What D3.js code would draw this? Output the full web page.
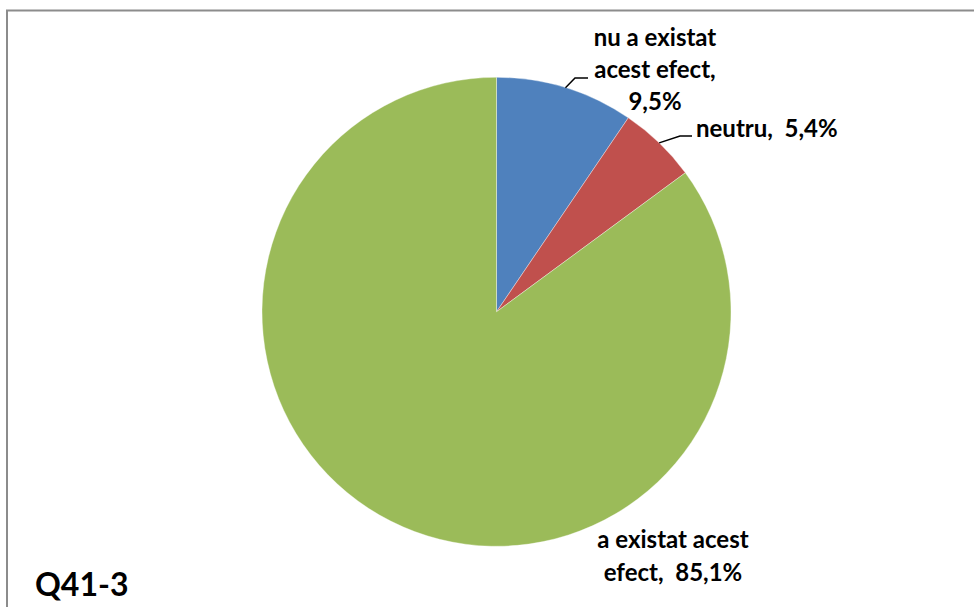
<!DOCTYPE html>
<html>
<head>
<meta charset="utf-8">
<script src="https://cdn.jsdelivr.net/npm/d3@7"></script>
<style>
  html, body { margin: 0; padding: 0; background: #fff; }
  svg { display: block; }
  text { font-family: Lato, "Open Sans", sans-serif; font-weight: bold; fill: #000; white-space: pre; }
</style>
</head>
<body>
<svg id="chart" width="974" height="607"></svg>
<script>
const categories = ["nu a existat acest efect", "neutru", "a existat acest efect"];
const values = [9.5, 5.4, 85.1];
const valueLabels = ["9,5%", "5,4%", "85,1%"];
const colors = ["#4F81BD", "#C0504D", "#9BBB59"];
const title = "Q41-3";

const svg = d3.select("#chart");
const W = 974, H = 607;

// frame
svg.append("rect").attr("x", 7).attr("y", 10.5).attr("width", W + 20).attr("height", H + 20)
  .attr("fill", "none").attr("stroke", "#8c8c8c").attr("stroke-width", 2);

const cx = 496.5, cy = 311.8, r = 234.5;
const pie = d3.pie().sort(null).value(d => d)(values);
const arc = d3.arc().innerRadius(0).outerRadius(r);

const g = svg.append("g").attr("transform", `translate(${cx},${cy})`);
g.selectAll("path").data(pie).enter().append("path")
  .attr("d", arc)
  .attr("fill", (d, i) => colors[i])
  .attr("stroke", "#ffffff").attr("stroke-opacity", 0.6).attr("stroke-width", 0.6);

const outer = d3.arc().innerRadius(r).outerRadius(r);

const labelSpecs = [
  { lines: ["nu a existat", "acest efect,", valueLabels[0]], x: 655, y: 46, lh: 32, anchor: "middle",
    leader: { bend: [575, 78], end: [588, 78] } },
  { lines: [categories[1] + ",  " + valueLabels[1]], x: 696, y: 137, lh: 32, anchor: "start",
    leader: { bend: [680, 136], end: [692, 136] } },
  { lines: ["a existat acest", "efect,  " + valueLabels[2]], x: 673, y: 548, lh: 33, anchor: "middle", leader: null }
];

labelSpecs.forEach((s, i) => {
  if (s.leader) {
    const c = outer.centroid(pie[i]);
    const px = cx + c[0], py = cy + c[1];
    svg.append("polyline")
      .attr("points", [[px, py], s.leader.bend, s.leader.end].map(p => p.join(",")).join(" "))
      .attr("fill", "none").attr("stroke", "#000").attr("stroke-width", 1.5);
  }
  const t = svg.append("text").attr("text-anchor", s.anchor).style("font-size", "24px");
  s.lines.forEach((ln, k) => {
    t.append("tspan").attr("x", s.x).attr("y", s.y + k * s.lh).text(ln);
  });
});

svg.append("text").attr("x", 35).attr("y", 596).style("font-size", "32px").text(title);
</script>
</body>
</html>
